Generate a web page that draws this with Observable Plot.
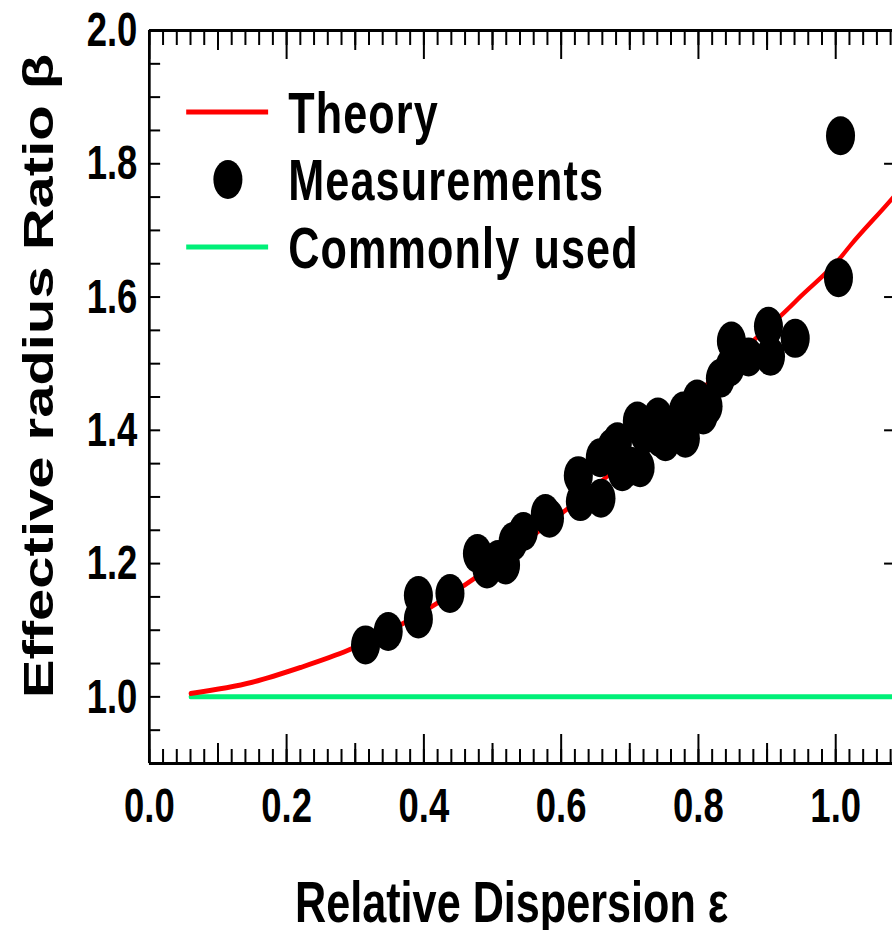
<!DOCTYPE html>
<html>
<head>
<meta charset="utf-8">
<script src="https://cdn.jsdelivr.net/npm/d3@7"></script>
<script src="https://cdn.jsdelivr.net/npm/@observablehq/plot@0.6"></script>
<style>
  html, body { margin: 0; padding: 0; background: #fff; overflow: hidden; }
  #chart svg { display: block; }
</style>
</head>
<body>
<div id="chart"></div>
<script>
// Measured effective radius ratio versus relative dispersion
const measuredEps = [0.315, 0.348, 0.392, 0.392, 0.438, 0.478, 0.492, 0.508, 0.519, 0.530,
  0.545, 0.577, 0.583, 0.625, 0.628, 0.658, 0.657, 0.674, 0.682, 0.689,
  0.701, 0.715, 0.711, 0.722, 0.741, 0.744, 0.752, 0.768, 0.778, 0.781,
  0.798, 0.807, 0.814, 0.832, 0.846, 0.848, 0.873, 0.902, 0.905, 0.941,
  1.004, 1.007];
const measuredBeta = [1.078, 1.098, 1.152, 1.117, 1.155, 1.215, 1.192, 1.206, 1.198, 1.233,
  1.248, 1.275, 1.268, 1.332, 1.293, 1.298, 1.359, 1.374, 1.383, 1.338,
  1.346, 1.344, 1.414, 1.394, 1.420, 1.389, 1.383, 1.406, 1.429, 1.388,
  1.447, 1.423, 1.436, 1.478, 1.495, 1.534, 1.510, 1.556, 1.511, 1.538,
  1.629, 1.842];

// Theoretical curve
const theoryEps  = [0.06, 0.15, 0.22, 0.29, 0.366, 0.438, 0.511, 0.584, 0.657, 0.73,
  0.803, 0.875, 0.923, 0.948, 1.006, 1.021, 1.079, 1.084];
const theoryBeta = [1.005, 1.022, 1.044, 1.07, 1.108, 1.153, 1.205, 1.262, 1.322, 1.39,
  1.46, 1.53, 1.575, 1.6, 1.658, 1.677, 1.744, 1.75];

// Commonly used constant ratio
const commonEps  = [0.06, 1.084];
const commonBeta = [1.0, 1.0];

// Axis ticks and labels
const xMajorTicks = [0, 0.2, 0.4, 0.6, 0.8, 1.0];
const xMidTicks = [0.1, 0.3, 0.5, 0.7, 0.9];
const xMinorTicks = d3.range(0, 1.085, 0.02);
const yMajorTicks = [1.0, 1.2, 1.4, 1.6, 1.8, 2.0];
const yMinorTicks = d3.range(0.9, 2.001, 0.05);
const tickLabel = d3.format(".1f");

const xTitle = "Relative Dispersion ε";
const yTitle = "Effective radius Ratio β";
const legendItems = [
  {label: "Theory", kind: "line", color: "#ff0000"},
  {label: "Measurements", kind: "dot", color: "#000000"},
  {label: "Commonly used", kind: "line", color: "#00f078"}
];

const measured = measuredEps.map((e, i) => ({eps: e, beta: measuredBeta[i]}));
const theory = theoryEps.map((e, i) => ({eps: e, beta: theoryBeta[i]}));
const common = commonEps.map((e, i) => ({eps: e, beta: commonBeta[i]}));

// The drawing is laid out wide and then compressed horizontally,
// which gives the narrow lettering and upright oval markers.
const squeeze = 0.745;
const W = 1199, H = 930;
const mL = 200, mT = 30, mB = 167;
const fontFamily = "'Liberation Sans', Arial, Helvetica, sans-serif";
const vTick = 2 / squeeze; // vertical strokes get thinner after compression

const chart = Plot.plot({
  width: W,
  height: H,
  marginLeft: mL,
  marginRight: 0,
  marginTop: mT,
  marginBottom: mB,
  x: {domain: [0, 1.084], axis: null},
  y: {domain: [0.9, 2.0], axis: null},
  style: {fontFamily, background: "white", color: "black"},
  marks: [
    // frame
    Plot.ruleX([0], {stroke: "black", strokeWidth: 3.6}),
    Plot.ruleY([0.9, 2.0], {stroke: "black", strokeWidth: 2.8}),
    // bottom ticks
    Plot.axisX({anchor: "bottom", ticks: xMinorTicks, tickSize: -14, strokeWidth: vTick, fill: "none", label: null}),
    Plot.axisX({anchor: "bottom", ticks: xMidTicks, tickSize: -20, strokeWidth: vTick, fill: "none", label: null}),
    Plot.axisX({anchor: "bottom", ticks: xMajorTicks, tickSize: -29, strokeWidth: vTick, fill: "none", label: null}),
    Plot.axisX({anchor: "bottom", ticks: xMajorTicks, tickSize: 0, tickPadding: 24, tickFormat: tickLabel,
      fontSize: 49, fontWeight: "bold", fontFamily, label: null}),
    // top ticks
    Plot.axisX({anchor: "top", ticks: xMinorTicks, tickSize: -14, strokeWidth: vTick, fill: "none", label: null}),
    Plot.axisX({anchor: "top", ticks: xMidTicks, tickSize: -19, strokeWidth: vTick, fill: "none", label: null}),
    Plot.axisX({anchor: "top", ticks: xMajorTicks, tickSize: -28, strokeWidth: vTick, fill: "none", label: null}),
    // left ticks and labels
    Plot.axisY({anchor: "left", ticks: yMinorTicks, tickSize: -15, strokeWidth: 2, fill: "none", label: null}),
    Plot.axisY({anchor: "left", ticks: yMajorTicks, tickSize: 0, tickPadding: 16, tickFormat: tickLabel,
      fontSize: 49, fontWeight: "bold", fontFamily, label: null}),
    // right ticks
    Plot.axisY({anchor: "right", ticks: yMajorTicks, tickSize: -13, strokeWidth: 2, fill: "none", label: null}),
    // series
    Plot.line(common, {x: "eps", y: "beta", stroke: "#00f078", strokeWidth: 5}),
    Plot.line(theory, {x: "eps", y: "beta", stroke: "#ff0000", strokeWidth: 5, curve: "monotone-x"}),
    Plot.dot(measured, {x: "eps", y: "beta", r: 19.5, fill: "black", stroke: "none"}),
    // axis titles
    Plot.text([xTitle], {frameAnchor: "bottom", lineAnchor: "bottom", textAnchor: "middle", dx: -13, dy: 158,
      fontSize: 58, fontWeight: "bold", fill: "black"}),
    Plot.text([yTitle], {frameAnchor: "left", rotate: -90, textAnchor: "middle", lineAnchor: "middle",
      dx: -148, dy: -21, fontSize: 58, fontWeight: "bold", fill: "black"})
  ]
});

// Legend in the upper-left corner of the frame
const svg = d3.select(chart);
const legend = svg.append("g")
  .attr("transform", `translate(${mL},${mT})`)
  .attr("font-family", fontFamily)
  .attr("font-weight", "bold")
  .attr("font-size", 58)
  .attr("text-anchor", "start");
const legendTop = 82, legendGap = 67.5;
legendItems.forEach((item, i) => {
  const cy = legendTop + i * legendGap;
  if (item.kind === "line") {
    legend.append("line")
      .attr("x1", 50).attr("x2", 160).attr("y1", cy).attr("y2", cy)
      .attr("stroke", item.color).attr("stroke-width", 5);
  } else {
    legend.append("circle")
      .attr("cx", 106).attr("cy", cy).attr("r", 19.5).attr("fill", item.color);
  }
  legend.append("text")
    .attr("x", 187).attr("y", cy).attr("dy", "0.36em")
    .attr("fill", "black")
    .attr("letter-spacing", 1.5)
    .text(item.label);
});

// Compress horizontally to the final page size
svg.attr("width", 893).attr("height", H)
  .attr("preserveAspectRatio", "none")
  .style("width", "893px").style("height", H + "px").style("max-width", "none");

document.getElementById("chart").appendChild(chart);
</script>
</body>
</html>
